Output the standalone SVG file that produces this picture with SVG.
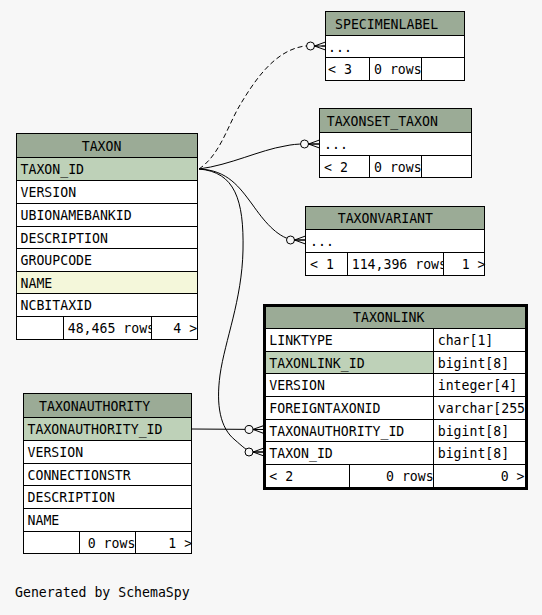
<svg xmlns="http://www.w3.org/2000/svg" width="542" height="615" viewBox="0 0 542 615">
<style>
text{font-family:"DejaVu Sans Mono","Liberation Mono",monospace;font-size:13.2px;fill:#000}
rect{stroke:#000;stroke-width:1}
.hd{fill:#9bab96}
.pk{fill:#bed1b8}
.ix{fill:#f4f7da}
.bd{fill:#fff}
.ln{fill:none;stroke:#000;stroke-width:1}
.dash{stroke-dasharray:5,3}
</style>
<defs>
<marker id="crow" markerUnits="userSpaceOnUse" markerWidth="22" markerHeight="12" viewBox="0 0 22 12" refX="20" refY="6" orient="auto" overflow="visible">
<circle cx="5" cy="6" r="4" fill="#f7f7f7" stroke="#000" stroke-width="1"/>
<path d="M9,6 L20,2 M9,6 L20,10 M9,6 L20,6" stroke="#000" stroke-width="1" fill="none"/>
</marker>
</defs>
<rect x="0" y="0" width="542" height="615" style="fill:#f7f7f7;stroke:none"/>
<g id="connectors">
<path class="ln dash" d="M199,169 C220,155 228,125 240,105 C255,80 275,50 305,46 L325.5,46" marker-end="url(#crow)"/>
<path class="ln" d="M199,169 C230,165 260,150 285,146 C292,144.5 297,144 305,144 L319.5,144" marker-end="url(#crow)"/>
<path class="ln" d="M199,169 C228,170 240,188 252,204 C264,221 276,236 292,240 L305.5,240" marker-end="url(#crow)"/>
<path class="ln" d="M199,169 C235,172 244,200 243,250 C242,300 225,340 220,375 C216,405 220,428 235,440 C242,446 247,451 252,452 L264,452" marker-end="url(#crow)"/>
<path class="ln" d="M192,429 L264,429.5" marker-end="url(#crow)"/>
</g>
<g id="specimenlabel">
<rect class="hd" x="325.5" y="11.5" width="139" height="24"/>
<text x="335" y="28.5">SPECIMENLABEL</text>
<rect class="bd" x="325.5" y="35.5" width="139" height="22"/>
<text x="328" y="51.5">...</text>
<rect class="bd" x="325.5" y="57.5" width="44" height="23"/>
<rect class="bd" x="369.5" y="57.5" width="52" height="23"/>
<rect class="bd" x="421.5" y="57.5" width="43" height="23"/>
<text x="328" y="74">&lt; 3</text>
<text x="374" y="74">0 rows</text>
</g>
<g id="taxonset_taxon">
<rect class="hd" x="319.5" y="108.5" width="152" height="24"/>
<text x="326.7" y="125.5">TAXONSET_TAXON</text>
<rect class="bd" x="319.5" y="132.5" width="152" height="23"/>
<text x="324" y="149">...</text>
<rect class="bd" x="319.5" y="155.5" width="50" height="22"/>
<rect class="bd" x="369.5" y="155.5" width="52" height="22"/>
<rect class="bd" x="421.5" y="155.5" width="50" height="22"/>
<text x="324" y="171.5">&lt; 2</text>
<text x="374" y="171.5">0 rows</text>
</g>
<g id="taxonvariant">
<rect class="hd" x="305.5" y="206.5" width="179" height="23"/>
<text x="337.7" y="223">TAXONVARIANT</text>
<rect class="bd" x="305.5" y="229.5" width="179" height="23"/>
<text x="310" y="246">...</text>
<rect class="bd" x="305.5" y="252.5" width="42" height="23"/>
<rect class="bd" x="347.5" y="252.5" width="96" height="23"/>
<text x="310" y="269">&lt; 1</text>
<text x="351.7" y="269">114,396 rows</text>
<rect class="bd" x="443.5" y="252.5" width="41" height="23"/>
<text x="461.7" y="269">1 &gt;</text>
</g>
<g id="taxon">
<rect class="hd" x="16.5" y="133.5" width="181" height="24"/>
<text x="81.7" y="150.5">TAXON</text>
<rect class="pk" x="16.5" y="157.5" width="181" height="23"/>
<text x="20.5" y="174">TAXON_ID</text>
<rect class="bd" x="16.5" y="180.5" width="181" height="23"/>
<text x="20.5" y="197">VERSION</text>
<rect class="bd" x="16.5" y="203.5" width="181" height="23"/>
<text x="20.5" y="220">UBIONAMEBANKID</text>
<rect class="bd" x="16.5" y="226.5" width="181" height="22"/>
<text x="20.5" y="242.5">DESCRIPTION</text>
<rect class="bd" x="16.5" y="248.5" width="181" height="23"/>
<text x="20.5" y="265">GROUPCODE</text>
<rect class="ix" x="16.5" y="271.5" width="181" height="22"/>
<text x="20.5" y="287.5">NAME</text>
<rect class="bd" x="16.5" y="293.5" width="181" height="23"/>
<text x="20.5" y="310">NCBITAXID</text>
<rect class="bd" x="16.5" y="316.5" width="47" height="23"/>
<rect class="bd" x="63.5" y="316.5" width="88" height="23"/>
<text x="67.7" y="333">48,465 rows</text>
<rect class="bd" x="151.5" y="316.5" width="46" height="23"/>
<text x="173.3" y="333">4 &gt;</text>
</g>
<g id="taxonauthority">
<rect class="hd" x="23.5" y="393.5" width="168" height="24"/>
<text x="39" y="410.5">TAXONAUTHORITY</text>
<rect class="pk" x="23.5" y="417.5" width="168" height="23"/>
<text x="27.5" y="434">TAXONAUTHORITY_ID</text>
<rect class="bd" x="23.5" y="440.5" width="168" height="23"/>
<text x="27.5" y="457">VERSION</text>
<rect class="bd" x="23.5" y="463.5" width="168" height="22"/>
<text x="27.5" y="479.5">CONNECTIONSTR</text>
<rect class="bd" x="23.5" y="485.5" width="168" height="23"/>
<text x="27.5" y="502">DESCRIPTION</text>
<rect class="bd" x="23.5" y="508.5" width="168" height="23"/>
<text x="27.5" y="525">NAME</text>
<rect class="bd" x="23.5" y="531.5" width="56" height="22"/>
<rect class="bd" x="79.5" y="531.5" width="56" height="22"/>
<rect class="bd" x="135.5" y="531.5" width="56" height="22"/>
<text x="87.7" y="547.5">0 rows</text>
<text x="168.3" y="547.5">1 &gt;</text>
</g>
<g id="taxonlink">
<rect class="hd" x="265.5" y="305.5" width="260" height="23"/>
<text x="353" y="322">TAXONLINK</text>
<rect class="bd" x="265.5" y="328.5" width="168" height="23"/>
<rect class="bd" x="433.5" y="328.5" width="92" height="23"/>
<text x="269.3" y="345">LINKTYPE</text>
<text x="437.7" y="345">char[1]</text>
<rect class="pk" x="265.5" y="351.5" width="168" height="22"/>
<rect class="bd" x="433.5" y="351.5" width="92" height="22"/>
<text x="269.3" y="367.5">TAXONLINK_ID</text>
<text x="437.7" y="367.5">bigint[8]</text>
<rect class="bd" x="265.5" y="373.5" width="168" height="23"/>
<rect class="bd" x="433.5" y="373.5" width="92" height="23"/>
<text x="269.3" y="390">VERSION</text>
<text x="437.7" y="390">integer[4]</text>
<rect class="bd" x="265.5" y="396.5" width="168" height="23"/>
<rect class="bd" x="433.5" y="396.5" width="92" height="23"/>
<text x="269.3" y="413">FOREIGNTAXONID</text>
<text x="437.7" y="413">varchar[255</text>
<rect class="bd" x="265.5" y="419.5" width="168" height="22"/>
<rect class="bd" x="433.5" y="419.5" width="92" height="22"/>
<text x="269.3" y="435.5">TAXONAUTHORITY_ID</text>
<text x="437.7" y="435.5">bigint[8]</text>
<rect class="bd" x="265.5" y="441.5" width="168" height="23"/>
<rect class="bd" x="433.5" y="441.5" width="92" height="23"/>
<text x="269.3" y="458">TAXON_ID</text>
<text x="437.7" y="458">bigint[8]</text>
<rect class="bd" x="265.5" y="464.5" width="84" height="23"/>
<rect class="bd" x="349.5" y="464.5" width="84" height="23"/>
<rect class="bd" x="433.5" y="464.5" width="92" height="23"/>
<text x="269.3" y="481">&lt; 2</text>
<text x="386" y="481">0 rows</text>
<text x="500.7" y="481">0 &gt;</text>
<rect x="264.5" y="305.5" width="262" height="183" style="fill:none;stroke:#000;stroke-width:3"/>
</g>
<text x="15" y="597">Generated by SchemaSpy</text>
</svg>
